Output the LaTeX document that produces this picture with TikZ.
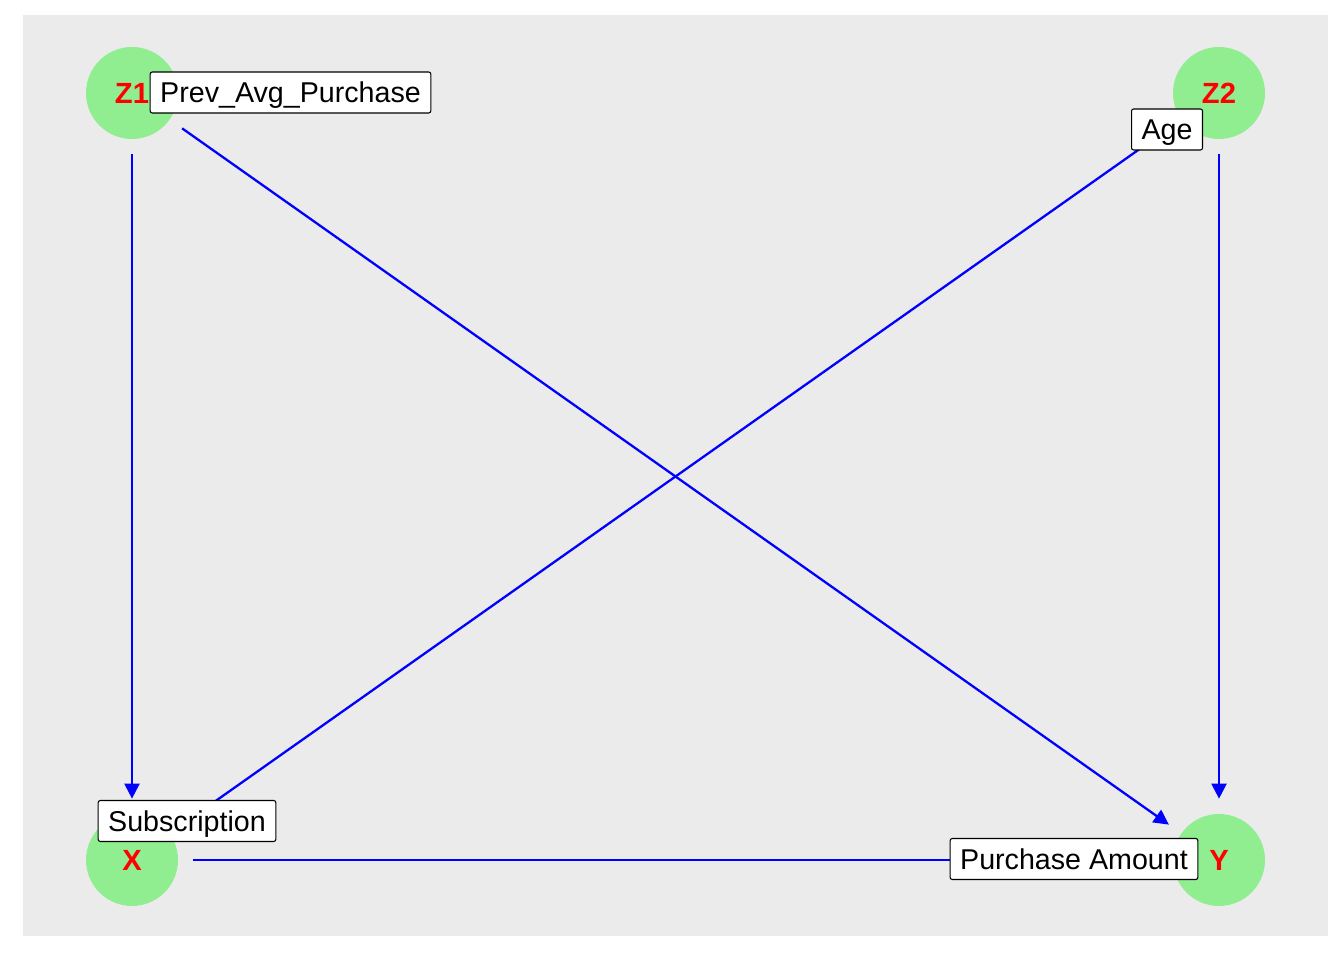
\documentclass[tikz,border=0pt]{standalone}
\usepackage{fontspec}
\setmainfont{Liberation Sans}
\usepackage{tikz}
\usetikzlibrary{arrows.meta,calc,positioning}
\definecolor{panelgray}{HTML}{EBEBEB}
\definecolor{nodegreen}{HTML}{90EE90}

\begin{document}
\begin{tikzpicture}[
    var/.style={circle, fill=nodegreen, minimum size=1.84cm, inner sep=0pt,
                text=red, text height=11.9pt, text depth=0pt,
                font=\fontsize{16.6}{20}\selectfont\bfseries},
    lbl/.style={draw=black, fill=white, rounded corners=1.2pt, line width=0.6pt,
                inner xsep=0.2cm, minimum height=0.82cm,
                text height=11.7pt, text depth=0pt,
                font=\fontsize{16.3}{19}\selectfont},
    edge/.style={blue, line width=1.3pt, -{Triangle[length=0.3cm,width=0.3cm]},
                 shorten <=0.3cm, shorten >=0.3cm}
  ]
                \useasboundingbox (0,0) rectangle (26.88,19.2);
                % panel
                \fill[panelgray] (0.46,0.48) rectangle (26.56,18.9);
                % variables
                \node[var] (z1) at (2.64,17.34) {Z1};
                \node[var] (z2) at (24.38,17.34) {Z2};
                \node[var] (x) at (2.64,2.0) {X};
                \node[var] (y) at (24.38,2.0) {Y};
                % edges
                \draw[edge] (z1) -- (x);
                \draw[edge] (z1) -- (y);
                \draw[edge] (z2) -- (y);
                \draw[edge] (z2) -- (x);
                \draw[edge] (x) -- (y);
                % labels
                \node[lbl] (prevlbl) at (5.81,17.35) {Prev\_Avg\_Purchase};
                \node[lbl] (agelbl) at (23.34,16.61) {Age};
                \node[lbl] (sublbl) at (3.74,2.78) {Subscription};
                \node[lbl] (purlbl) at (21.48,2.02) {Purchase Amount};
              \end{tikzpicture}
\end{document}
